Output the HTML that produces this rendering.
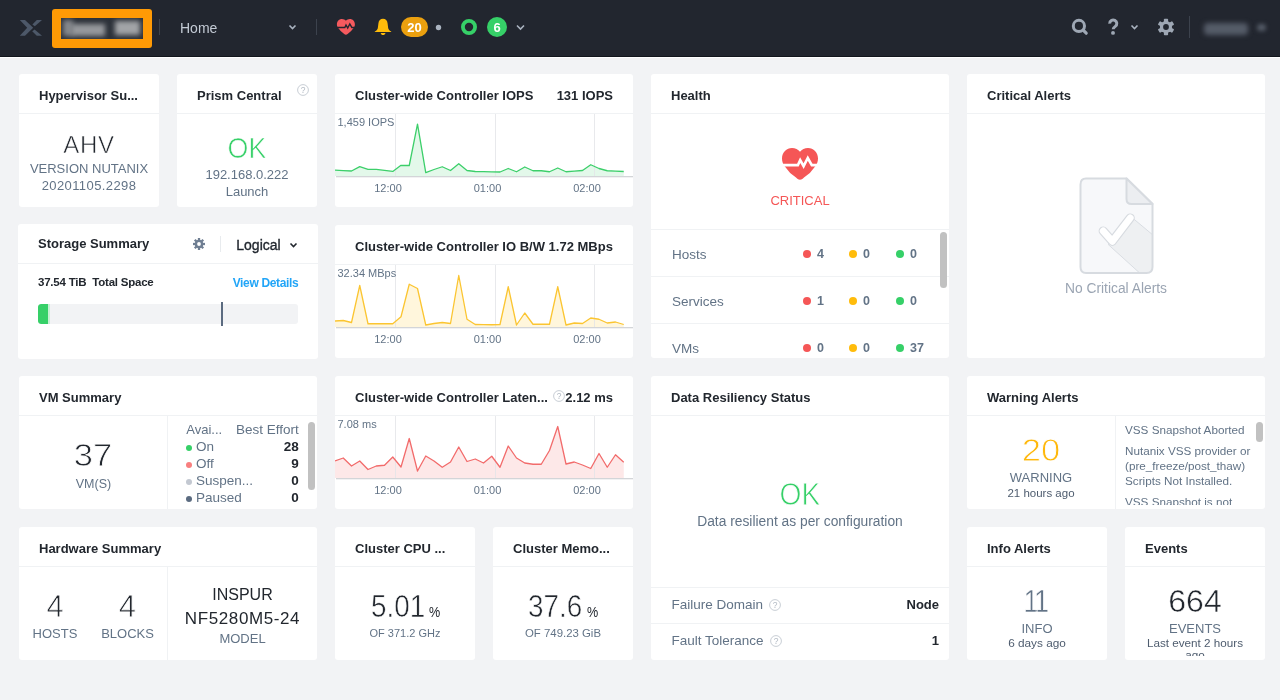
<!DOCTYPE html>
<html><head><meta charset="utf-8"><title>Prism Dashboard</title>
<style>
*{box-sizing:border-box;margin:0;padding:0}
html,body{width:1280px;height:700px;overflow:hidden}
body{background:#f2f3f5;font-family:"Liberation Sans",Arial,sans-serif;color:#22272e;position:relative}
.a{position:absolute}
.t{position:absolute;line-height:1;white-space:nowrap}
.card{position:absolute;background:#fff;border-radius:3px;overflow:hidden}
.hl{position:absolute;left:0;right:0;top:39px;height:1px;background:#f0f2f4}
.vl{position:absolute;top:40px;bottom:0;width:1px;background:#f0f2f4}
</style></head><body>
<div class="a" style="left:0;top:0;width:1280px;height:56px;background:#22262f"></div>
<div class="a" style="left:0;top:56px;width:1280px;height:1px;background:#12161d"></div>
<div class="a" style="left:0;top:57px;width:1280px;height:1px;background:#fff"></div>
<svg class="a" style="left:0;top:0" width="1280" height="56" viewBox="0 0 1280 56">
  <g fill="#4d5869">
    <polygon points="19.8,20 25,20 33.2,27.8 25,35.8 19.8,35.8 27.2,27.8"/>
    <polygon points="36.8,20 42,20 34.8,26.2 32.4,24.4"/>
    <polygon points="32.2,31.2 34.6,29.6 42,35.8 36.8,35.8"/>
  </g>
  <rect x="52" y="9" width="100" height="39" rx="3" fill="#ff9a05"/>
  <rect x="61" y="18" width="82" height="21" fill="#2d323a"/>
  <rect x="316" y="19" width="1" height="16" fill="#3c424d"/>
  <rect x="159" y="19" width="1" height="16" fill="#3c434c"/>
  <rect x="1189" y="16" width="1" height="22" fill="#3c424d"/>
  <g fill="none" stroke="#aab3c0" stroke-width="1.6">
    <polyline points="289.5,25.5 292.5,28.5 295.5,25.5"/>
    <polyline points="517,25.5 520.5,29 524,25.5"/>
    <polyline points="1131.5,25.5 1134.5,28.5 1137.5,25.5"/>
  </g>
  <g transform="translate(336.4,18.4) scale(0.5)"><path fill="#f55a5e" d="M19,32.8 C17.6,32.8 16.5,32 15,30.6 Q8.6,26.6 4.5,20.2 C2,17.8 1,14.5 1,11.5 C1,5.5 5.5,1 11,1 C14.3,1 17.2,2.5 19,4.8 C20.8,2.5 23.7,1 27,1 C32.5,1 37,5.5 37,11.5 C37,14.5 36,17.8 33.5,20.2 Q29.4,26.6 23,30.6 C21.5,32 20.4,32.8 19,32.8 Z"/><polyline fill="none" stroke="#22262f" stroke-width="2.8" stroke-miterlimit="3" points="0,18.1 16.9,18.1 19.2,13.2 22.6,19.2 26.8,11 30.8,18.1 38,18.1"/></g>
  <path fill="#ffbc0b" d="M383,18.8 C380.4,18.8 378.6,20.6 378.4,23.5 L377.8,28.2 C377.4,29.8 376.2,30.8 374.8,31.4 L374.8,32.1 L391.2,32.1 L391.2,31.4 C389.8,30.8 388.6,29.8 388.2,28.2 L387.6,23.5 C387.4,20.6 385.6,18.8 383,18.8 Z"/>
  <path fill="#ffbc0b" d="M380.6,33 L385.5,33 C385.2,34.3 384.3,35.1 383,35.1 C381.8,35.1 380.9,34.3 380.6,33 Z"/>
  <rect x="401" y="17" width="27" height="20" rx="10" fill="#eba00f"/>
  <circle cx="438.5" cy="27.5" r="2.7" fill="#aab3c0"/>
  <circle cx="469" cy="27" r="6.1" fill="none" stroke="#36d068" stroke-width="3.8"/>
  <circle cx="497" cy="27" r="10" fill="#36d068"/>
  <g fill="none" stroke="#9ea7b4" stroke-width="3">
    <circle cx="1078.9" cy="25.9" r="5.6"/>
    <line x1="1083.2" y1="30.2" x2="1086.2" y2="33.2" stroke-width="3.2" stroke-linecap="round"/>
  </g>
  <path fill="none" stroke="#9ea7b4" stroke-width="3" d="M1109.7,23.6 A3.55,3.55 0 1 1 1115.3,26.4 C1114,27.3 1113.2,27.9 1113.2,29.3"/>
  <circle cx="1113" cy="32.9" r="1.95" fill="#9ea7b4"/>
  <g fill="#9ea7b4" transform="translate(1166,27)">
    <circle r="6.1"/>
    <rect x="-2.1" y="-8.3" width="4.2" height="16.6" rx="0.8"/>
    <rect x="-2.1" y="-8.3" width="4.2" height="16.6" rx="0.8" transform="rotate(60)"/>
    <rect x="-2.1" y="-8.3" width="4.2" height="16.6" rx="0.8" transform="rotate(120)"/>
    <circle r="2.9" fill="#22262f"/>
  </g>
</svg>
<div class="t" style="left:180px;top:21px;font-size:14px;color:#c3cad4">Home</div>
<div class="t" style="left:401px;top:21px;width:27px;text-align:center;font-size:13px;font-weight:bold;color:#fff">20</div>
<div class="t" style="left:487px;top:21px;width:20px;text-align:center;font-size:13px;font-weight:bold;color:#fff">6</div>
<div class="a" style="left:61px;top:18px;width:82px;height:21px;overflow:hidden">
<div class="a" style="left:2px;top:2px;width:10px;height:16px;background:#85888d;filter:blur(2.6px)"></div>
<div class="a" style="left:10px;top:6px;width:34px;height:12px;background:#96989c;filter:blur(2.6px)"></div>
<div class="a" style="left:54px;top:3px;width:25px;height:14px;background:#a2a4a7;filter:blur(2.6px)"></div>
</div>
<div class="a" style="left:1204px;top:23px;width:44px;height:12px;background:#555c68;filter:blur(2.5px);border-radius:4px"></div>
<div class="a" style="left:1257px;top:24px;width:9px;height:7px;background:#555c68;filter:blur(2px);border-radius:4px"></div>

<div class="card" style="left:19px;top:74px;width:140px;height:133px"><div class="hl"></div></div>
<div class="t" style="top:89px;font-size:13px;color:#22272e;font-weight:bold;left:39px;">Hypervisor Su...</div>
<div class="t" style="top:132.6px;font-size:24px;color:#22272e;letter-spacing:0.8px;left:-61px;width:300px;text-align:center;-webkit-text-stroke:0.6px #fff;">AHV</div>
<div class="t" style="top:162px;font-size:13px;color:#627386;left:-61px;width:300px;text-align:center;">VERSION NUTANIX</div>
<div class="t" style="top:179px;font-size:13px;color:#627386;letter-spacing:0.4px;left:-61px;width:300px;text-align:center;">20201105.2298</div>
<div class="card" style="left:177px;top:74px;width:140px;height:133px"><div class="hl"></div></div>
<div class="t" style="top:89px;font-size:13px;color:#22272e;font-weight:bold;left:197px;">Prism Central</div>
<div class="t" style="top:132.8px;font-size:29.5px;color:#36d068;left:97px;width:300px;text-align:center;transform:scaleX(0.91);transform-origin:center 0;-webkit-text-stroke:0.7px #fff;">OK</div>
<div class="t" style="top:168px;font-size:13px;color:#627386;left:97px;width:300px;text-align:center;">192.168.0.222</div>
<div class="t" style="top:185px;font-size:13px;color:#627386;left:97px;width:300px;text-align:center;">Launch</div>
<svg class="a" style="left:296px;top:83px" width="14" height="14" viewBox="0 0 14 14"><circle cx="7" cy="7" r="5.4" fill="none" stroke="#c2c8d0" stroke-width="0.9"/><text x="7" y="10" font-size="8.5" text-anchor="middle" fill="#b0b8c2" font-family="Liberation Sans">?</text></svg>
<div class="card" style="left:335px;top:74px;width:298px;height:133px"><div class="hl"></div></div>
<div class="t" style="top:89px;font-size:13px;color:#22272e;font-weight:bold;left:355px;">Cluster-wide Controller IOPS</div>
<div class="t" style="top:89px;font-size:13px;color:#22272e;font-weight:bold;right:667px;text-align:right;">131 IOPS</div>
<svg class="a" style="left:335px;top:74px" width="298" height="133" viewBox="0 0 298 133"><polygon points="0,102 0.00,96.20 8.25,96.60 16.50,97.00 24.75,92.60 33.00,95.40 41.25,95.40 49.50,96.40 57.75,97.40 66.00,91.30 74.25,91.50 82.50,50.10 90.75,98.60 99.00,95.50 107.25,92.75 115.50,96.50 123.75,89.75 132.00,96.50 140.25,97.50 148.50,97.70 156.75,97.80 165.00,98.00 173.25,94.50 181.50,97.75 189.75,93.00 198.00,96.75 206.25,96.75 214.50,97.75 222.75,94.00 231.00,97.75 239.25,97.10 247.50,96.50 255.75,90.75 264.00,94.50 272.25,96.75 280.50,97.10 288.75,97.50 288.75,102" fill="#e3f8ea"/><rect x="60" y="40" width="1" height="62" fill="#e2e4e7" fill-opacity="0.8"/><rect x="160" y="40" width="1" height="62" fill="#e2e4e7" fill-opacity="0.8"/><rect x="259" y="40" width="1" height="62" fill="#e2e4e7" fill-opacity="0.8"/><polyline points="0.00,96.20 8.25,96.60 16.50,97.00 24.75,92.60 33.00,95.40 41.25,95.40 49.50,96.40 57.75,97.40 66.00,91.30 74.25,91.50 82.50,50.10 90.75,98.60 99.00,95.50 107.25,92.75 115.50,96.50 123.75,89.75 132.00,96.50 140.25,97.50 148.50,97.70 156.75,97.80 165.00,98.00 173.25,94.50 181.50,97.75 189.75,93.00 198.00,96.75 206.25,96.75 214.50,97.75 222.75,94.00 231.00,97.75 239.25,97.10 247.50,96.50 255.75,90.75 264.00,94.50 272.25,96.75 280.50,97.10 288.75,97.50" fill="none" stroke="#3ccf6a" stroke-width="1.3" stroke-linejoin="round"/><rect x="1" y="102" width="297" height="1.3" fill="#d3d5d8"/></svg>
<div class="t" style="top:117.3px;font-size:11px;color:#627386;left:337.5px;">1,459 IOPS</div>
<div class="t" style="top:183px;font-size:11px;color:#627386;left:238px;width:300px;text-align:center;">12:00</div>
<div class="t" style="top:183px;font-size:11px;color:#627386;left:337.5px;width:300px;text-align:center;">01:00</div>
<div class="t" style="top:183px;font-size:11px;color:#627386;left:437px;width:300px;text-align:center;">02:00</div>
<div class="card" style="left:651px;top:74px;width:298px;height:284px"><div class="hl"></div><div style="position:absolute;left:0;right:0;top:155px;height:1px;background:#f0f2f4"></div><div style="position:absolute;left:0;right:0;top:202px;height:1px;background:#f0f2f4"></div><div style="position:absolute;left:0;right:0;top:249px;height:1px;background:#f0f2f4"></div><div style="position:absolute;left:289px;top:158px;width:7px;height:56px;border-radius:4px;background:#c1c1c1"></div></div>
<div class="t" style="top:89px;font-size:13px;color:#22272e;font-weight:bold;left:671px;">Health</div>
<svg class="a" style="left:781px;top:147px" width="38" height="34" viewBox="0 0 38 34"><path fill="#f55656" d="M19,32.8 C17.6,32.8 16.5,32 15,30.6 Q8.6,26.6 4.5,20.2 C2,17.8 1,14.5 1,11.5 C1,5.5 5.5,1 11,1 C14.3,1 17.2,2.5 19,4.8 C20.8,2.5 23.7,1 27,1 C32.5,1 37,5.5 37,11.5 C37,14.5 36,17.8 33.5,20.2 Q29.4,26.6 23,30.6 C21.5,32 20.4,32.8 19,32.8 Z"/><polyline fill="none" stroke="#fff" stroke-width="2.6" stroke-linejoin="miter" stroke-miterlimit="3" points="0,18.1 16.9,18.1 19.2,13.2 22.6,19.2 26.8,11 30.8,18.1 38,18.1"/></svg>
<div class="t" style="top:193.8px;font-size:13px;color:#f55656;left:650px;width:300px;text-align:center;">CRITICAL</div>
<div class="t" style="top:247.8px;font-size:13.5px;color:#627386;left:672px;">Hosts</div>
<div class="a" style="left:803px;top:250px;width:8px;height:8px;border-radius:50%;background:#f55656"></div>
<div class="t" style="top:248px;font-size:12.5px;color:#627386;font-weight:bold;left:817px;">4</div>
<div class="a" style="left:849px;top:250px;width:8px;height:8px;border-radius:50%;background:#ffbc0b"></div>
<div class="t" style="top:248px;font-size:12.5px;color:#627386;font-weight:bold;left:863px;">0</div>
<div class="a" style="left:896px;top:250px;width:8px;height:8px;border-radius:50%;background:#36d068"></div>
<div class="t" style="top:248px;font-size:12.5px;color:#627386;font-weight:bold;left:910px;">0</div>
<div class="t" style="top:294.8px;font-size:13.5px;color:#627386;left:672px;">Services</div>
<div class="a" style="left:803px;top:297px;width:8px;height:8px;border-radius:50%;background:#f55656"></div>
<div class="t" style="top:295px;font-size:12.5px;color:#627386;font-weight:bold;left:817px;">1</div>
<div class="a" style="left:849px;top:297px;width:8px;height:8px;border-radius:50%;background:#ffbc0b"></div>
<div class="t" style="top:295px;font-size:12.5px;color:#627386;font-weight:bold;left:863px;">0</div>
<div class="a" style="left:896px;top:297px;width:8px;height:8px;border-radius:50%;background:#36d068"></div>
<div class="t" style="top:295px;font-size:12.5px;color:#627386;font-weight:bold;left:910px;">0</div>
<div class="t" style="top:341.8px;font-size:13.5px;color:#627386;left:672px;">VMs</div>
<div class="a" style="left:803px;top:344px;width:8px;height:8px;border-radius:50%;background:#f55656"></div>
<div class="t" style="top:342px;font-size:12.5px;color:#627386;font-weight:bold;left:817px;">0</div>
<div class="a" style="left:849px;top:344px;width:8px;height:8px;border-radius:50%;background:#ffbc0b"></div>
<div class="t" style="top:342px;font-size:12.5px;color:#627386;font-weight:bold;left:863px;">0</div>
<div class="a" style="left:896px;top:344px;width:8px;height:8px;border-radius:50%;background:#36d068"></div>
<div class="t" style="top:342px;font-size:12.5px;color:#627386;font-weight:bold;left:910px;">37</div>
<div class="card" style="left:967px;top:74px;width:298px;height:284px"><div class="hl"></div></div>
<div class="t" style="top:89px;font-size:13px;color:#22272e;font-weight:bold;left:987px;">Critical Alerts</div>
<svg class="a" style="left:1079px;top:177px" width="76" height="98" viewBox="0 0 76 98"><defs><clipPath id="dc"><path d="M7,1.5 L47.5,1.5 L73.5,27 L73.5,90 Q73.5,96 67.5,96 L7,96 Q1.5,96 1.5,90 L1.5,7.5 Q1.5,1.5 7,1.5 Z"/></clipPath></defs><path d="M7,1.5 L47.5,1.5 L73.5,27 L73.5,90 Q73.5,96 67.5,96 L7,96 Q1.5,96 1.5,90 L1.5,7.5 Q1.5,1.5 7,1.5 Z" fill="#f7f8fa"/><g clip-path="url(#dc)"><path d="M29,67.3 L55.1,42.3 L80,63.1 L80,102 L67.3,102 Z" fill="#eef0f2" stroke="#d9dde2" stroke-width="1"/></g><path d="M7,1.5 L47.5,1.5 L73.5,27 L73.5,90 Q73.5,96 67.5,96 L7,96 Q1.5,96 1.5,90 L1.5,7.5 Q1.5,1.5 7,1.5 Z" fill="none" stroke="#d7dbe0" stroke-width="2"/><path d="M47.5,1.5 L47.5,22 Q47.5,27 52.5,27 L73.5,27 Z" fill="#eceef1" stroke="#d7dbe0" stroke-width="2" stroke-linejoin="round"/><path d="M24.2,54 L33.3,64.3 L51.2,41" fill="none" stroke="#d7dbe0" stroke-width="9.2" stroke-linecap="round" stroke-linejoin="round"/><path d="M24.2,54 L33.3,64.3 L51.2,41" fill="none" stroke="#fff" stroke-width="6.9" stroke-linecap="round" stroke-linejoin="round"/></svg>
<div class="t" style="top:281.8px;font-size:13.8px;color:#9ba5b3;left:966px;width:300px;text-align:center;">No Critical Alerts</div>
<div class="card" style="left:18px;top:224px;width:300px;height:135px"><div class="hl"></div></div>
<div class="t" style="top:237.3px;font-size:13px;color:#22272e;font-weight:bold;left:38px;">Storage Summary</div>
<svg class="a" style="left:192px;top:237px" width="14" height="14" viewBox="-7 -7 14 14"><g fill="#6f7e92"><circle r="4.3"/><rect x="-1.15" y="-6" width="2.3" height="12"/><rect x="-1.15" y="-6" width="2.3" height="12" transform="rotate(45)"/><rect x="-1.15" y="-6" width="2.3" height="12" transform="rotate(90)"/><rect x="-1.15" y="-6" width="2.3" height="12" transform="rotate(135)"/><circle r="1.9" fill="#fff"/></g></svg>
<div class="a" style="left:220px;top:236px;width:1px;height:16px;background:#e8ebee"></div>
<div class="t" style="top:238px;font-size:14px;color:#1f252d;left:236.3px;-webkit-text-stroke:0.35px #1f252d;">Logical</div>
<svg class="a" style="left:289px;top:242px" width="10" height="7" viewBox="0 0 10 7"><polyline points="1.5,1.5 4.5,4.5 7.5,1.5" fill="none" stroke="#22272e" stroke-width="1.6"/></svg>
<div class="t" style="top:277.3px;font-size:11.5px;color:#22272e;font-weight:bold;letter-spacing:-0.22px;left:38px;">37.54 TiB&nbsp; Total Space</div>
<div class="t" style="top:276.8px;font-size:12px;color:#22a5f7;font-weight:bold;letter-spacing:-0.35px;right:981.7px;text-align:right;">View Details</div>
<div class="a" style="left:38px;top:304px;width:260px;height:20px;border-radius:3px;background:#f2f3f5;overflow:hidden"><div style="position:absolute;left:0;top:0;width:12px;height:20px;background:#c7f0d4"></div><div style="position:absolute;left:0;top:0;width:10px;height:20px;background:#36d068;border-radius:3px 0 0 3px"></div></div><div class="a" style="left:221px;top:302px;width:2px;height:24px;background:#5b6b80"></div>
<div class="card" style="left:335px;top:225px;width:298px;height:133px"><div class="hl"></div></div>
<div class="t" style="top:240px;font-size:13px;color:#22272e;font-weight:bold;left:355px;">Cluster-wide Controller IO B/W 1.72 MBps</div>
<svg class="a" style="left:335px;top:225px" width="298" height="133" viewBox="0 0 298 133"><polygon points="0,102 0.00,96.00 8.25,95.50 16.50,97.50 24.75,60.50 33.00,98.75 41.25,98.75 49.50,98.75 57.75,98.75 66.00,91.75 74.25,59.25 82.50,63.50 90.75,100.00 99.00,98.50 107.25,97.50 115.50,98.50 123.75,50.50 132.00,94.25 140.25,99.50 148.50,99.60 156.75,99.75 165.00,99.50 173.25,61.75 181.50,100.00 189.75,88.00 198.00,99.25 206.25,99.25 214.50,99.25 222.75,61.75 231.00,100.00 239.25,98.00 247.50,98.50 255.75,93.00 264.00,94.25 272.25,98.00 280.50,97.00 288.75,99.50 288.75,102" fill="#fff6dc"/><rect x="60" y="40" width="1" height="62" fill="#e2e4e7" fill-opacity="0.8"/><rect x="160" y="40" width="1" height="62" fill="#e2e4e7" fill-opacity="0.8"/><rect x="259" y="40" width="1" height="62" fill="#e2e4e7" fill-opacity="0.8"/><polyline points="0.00,96.00 8.25,95.50 16.50,97.50 24.75,60.50 33.00,98.75 41.25,98.75 49.50,98.75 57.75,98.75 66.00,91.75 74.25,59.25 82.50,63.50 90.75,100.00 99.00,98.50 107.25,97.50 115.50,98.50 123.75,50.50 132.00,94.25 140.25,99.50 148.50,99.60 156.75,99.75 165.00,99.50 173.25,61.75 181.50,100.00 189.75,88.00 198.00,99.25 206.25,99.25 214.50,99.25 222.75,61.75 231.00,100.00 239.25,98.00 247.50,98.50 255.75,93.00 264.00,94.25 272.25,98.00 280.50,97.00 288.75,99.50" fill="none" stroke="#fbc531" stroke-width="1.3" stroke-linejoin="round"/><rect x="1" y="102" width="297" height="1.3" fill="#d3d5d8"/></svg>
<div class="t" style="top:268.3px;font-size:11px;color:#627386;left:337.5px;">32.34 MBps</div>
<div class="t" style="top:334px;font-size:11px;color:#627386;left:238px;width:300px;text-align:center;">12:00</div>
<div class="t" style="top:334px;font-size:11px;color:#627386;left:337.5px;width:300px;text-align:center;">01:00</div>
<div class="t" style="top:334px;font-size:11px;color:#627386;left:437px;width:300px;text-align:center;">02:00</div>
<div class="card" style="left:19px;top:376px;width:298px;height:133px"><div class="hl"></div><div class="vl" style="left:148px"></div><div style="position:absolute;left:289px;top:46px;width:7px;height:68px;border-radius:4px;background:#c1c1c1"></div></div>
<div class="t" style="top:391px;font-size:13px;color:#22272e;font-weight:bold;left:39px;">VM Summary</div>
<div class="t" style="top:439.3px;font-size:32px;color:#22272e;left:-56.900000000000006px;width:300px;text-align:center;transform:scaleX(1.08);transform-origin:center 0;-webkit-text-stroke:0.8px #fff;">37</div>
<div class="t" style="top:477.5px;font-size:12.5px;color:#627386;left:-56.5px;width:300px;text-align:center;">VM(S)</div>
<div class="t" style="top:422.7px;font-size:13px;color:#627386;left:186.3px;">Avai...</div>
<div class="t" style="top:422.7px;font-size:13.5px;color:#627386;right:981.3px;text-align:right;">Best Effort</div>
<div class="a" style="left:186px;top:444.6px;width:6px;height:6px;border-radius:50%;background:#36d068"></div>
<div class="t" style="top:439.6px;font-size:13.5px;color:#627386;left:196px;">On</div>
<div class="t" style="top:439.6px;font-size:13.5px;color:#22272e;font-weight:bold;right:981.3px;text-align:right;">28</div>
<div class="a" style="left:186px;top:461.6px;width:6px;height:6px;border-radius:50%;background:#f87f7f"></div>
<div class="t" style="top:456.6px;font-size:13.5px;color:#627386;left:196px;">Off</div>
<div class="t" style="top:456.6px;font-size:13.5px;color:#22272e;font-weight:bold;right:981.3px;text-align:right;">9</div>
<div class="a" style="left:186px;top:478.6px;width:6px;height:6px;border-radius:50%;background:#c3c8d1"></div>
<div class="t" style="top:473.6px;font-size:13.5px;color:#627386;left:196px;">Suspen...</div>
<div class="t" style="top:473.6px;font-size:13.5px;color:#22272e;font-weight:bold;right:981.3px;text-align:right;">0</div>
<div class="a" style="left:186px;top:495.6px;width:6px;height:6px;border-radius:50%;background:#5b6b80"></div>
<div class="t" style="top:490.6px;font-size:13.5px;color:#627386;left:196px;">Paused</div>
<div class="t" style="top:490.6px;font-size:13.5px;color:#22272e;font-weight:bold;right:981.3px;text-align:right;">0</div>
<div class="card" style="left:335px;top:376px;width:298px;height:133px"><div class="hl"></div></div>
<div class="t" style="top:391px;font-size:13px;color:#22272e;font-weight:bold;left:355px;">Cluster-wide Controller Laten...</div>
<svg class="a" style="left:552px;top:389px" width="14" height="14" viewBox="0 0 14 14"><circle cx="7" cy="7" r="5.4" fill="none" stroke="#c2c8d0" stroke-width="0.9"/><text x="7" y="10" font-size="8.5" text-anchor="middle" fill="#b0b8c2" font-family="Liberation Sans">?</text></svg>
<div class="t" style="top:391px;font-size:13px;color:#22272e;font-weight:bold;right:667px;text-align:right;">2.12 ms</div>
<svg class="a" style="left:335px;top:376px" width="298" height="133" viewBox="0 0 298 133"><polygon points="0,102 0.00,85.00 8.25,82.00 16.50,90.00 24.75,85.00 33.00,93.50 41.25,90.00 49.50,89.25 57.75,81.00 66.00,91.00 74.25,62.50 82.50,95.00 90.75,80.00 99.00,85.00 107.25,91.25 115.50,86.00 123.75,71.00 132.00,85.50 140.25,83.00 148.50,87.00 156.75,80.25 165.00,91.25 173.25,70.00 181.50,82.00 189.75,87.00 198.00,88.25 206.25,88.25 214.50,74.50 222.75,50.50 231.00,88.00 239.25,86.00 247.50,89.00 255.75,92.50 264.00,77.50 272.25,91.25 280.50,78.75 288.75,86.25 288.75,102" fill="#fde8e8"/><rect x="60" y="40" width="1" height="62" fill="#e2e4e7" fill-opacity="0.8"/><rect x="160" y="40" width="1" height="62" fill="#e2e4e7" fill-opacity="0.8"/><rect x="259" y="40" width="1" height="62" fill="#e2e4e7" fill-opacity="0.8"/><polyline points="0.00,85.00 8.25,82.00 16.50,90.00 24.75,85.00 33.00,93.50 41.25,90.00 49.50,89.25 57.75,81.00 66.00,91.00 74.25,62.50 82.50,95.00 90.75,80.00 99.00,85.00 107.25,91.25 115.50,86.00 123.75,71.00 132.00,85.50 140.25,83.00 148.50,87.00 156.75,80.25 165.00,91.25 173.25,70.00 181.50,82.00 189.75,87.00 198.00,88.25 206.25,88.25 214.50,74.50 222.75,50.50 231.00,88.00 239.25,86.00 247.50,89.00 255.75,92.50 264.00,77.50 272.25,91.25 280.50,78.75 288.75,86.25" fill="none" stroke="#f26b6b" stroke-width="1.3" stroke-linejoin="round"/><rect x="1" y="102" width="297" height="1.3" fill="#d3d5d8"/></svg>
<div class="t" style="top:419.3px;font-size:11px;color:#627386;left:337.5px;">7.08 ms</div>
<div class="t" style="top:485px;font-size:11px;color:#627386;left:238px;width:300px;text-align:center;">12:00</div>
<div class="t" style="top:485px;font-size:11px;color:#627386;left:337.5px;width:300px;text-align:center;">01:00</div>
<div class="t" style="top:485px;font-size:11px;color:#627386;left:437px;width:300px;text-align:center;">02:00</div>
<div class="card" style="left:651px;top:376px;width:298px;height:284px"><div class="hl"></div><div style="position:absolute;left:0;right:0;top:211px;height:1px;background:#f0f2f4"></div><div style="position:absolute;left:0;right:0;top:247px;height:1px;background:#f0f2f4"></div></div>
<div class="t" style="top:391px;font-size:13px;color:#22272e;font-weight:bold;left:671px;">Data Resiliency Status</div>
<div class="t" style="top:479.2px;font-size:31px;color:#36d068;left:650px;width:300px;text-align:center;transform:scaleX(0.91);transform-origin:center 0;-webkit-text-stroke:0.8px #fff;">OK</div>
<div class="t" style="top:514.5px;font-size:13.8px;color:#627386;left:650px;width:300px;text-align:center;">Data resilient as per configuration</div>
<div class="t" style="top:598px;font-size:13.5px;color:#627386;left:671.5px;">Failure Domain</div>
<div class="t" style="top:634px;font-size:13.5px;color:#627386;left:671.5px;">Fault Tolerance</div>
<svg class="a" style="left:768px;top:598.3px" width="14" height="14" viewBox="0 0 14 14"><circle cx="7" cy="7" r="5.4" fill="none" stroke="#c2c8d0" stroke-width="0.9"/><text x="7" y="10" font-size="8.5" text-anchor="middle" fill="#b0b8c2" font-family="Liberation Sans">?</text></svg>
<svg class="a" style="left:769px;top:634.3px" width="14" height="14" viewBox="0 0 14 14"><circle cx="7" cy="7" r="5.4" fill="none" stroke="#c2c8d0" stroke-width="0.9"/><text x="7" y="10" font-size="8.5" text-anchor="middle" fill="#b0b8c2" font-family="Liberation Sans">?</text></svg>
<div class="t" style="top:598px;font-size:13px;color:#22272e;font-weight:bold;right:341px;text-align:right;">Node</div>
<div class="t" style="top:634px;font-size:13px;color:#22272e;font-weight:bold;right:341px;text-align:right;">1</div>
<div class="card" style="left:967px;top:376px;width:298px;height:133px"><div class="hl"></div><div class="vl" style="left:148px"></div><div style="position:absolute;left:289px;top:46px;width:7px;height:20px;border-radius:4px;background:#c1c1c1"></div></div>
<div class="t" style="top:391px;font-size:13px;color:#22272e;font-weight:bold;left:987px;">Warning Alerts</div>
<div class="t" style="top:434.3px;font-size:32px;color:#ffb80a;left:890.9000000000001px;width:300px;text-align:center;transform:scaleX(1.08);transform-origin:center 0;-webkit-text-stroke:0.8px #fff;">20</div>
<div class="t" style="top:471px;font-size:13px;color:#627386;left:891px;width:300px;text-align:center;">WARNING</div>
<div class="t" style="top:487.5px;font-size:11.5px;color:#4e5c6e;left:891px;width:300px;text-align:center;">21 hours ago</div>
<div class="a" style="left:1116px;top:416px;width:140px;height:89px;overflow:hidden">
<div class="t" style="left:9px;top:8px;font-size:11.7px;color:#627386">VSS Snapshot Aborted</div>
<div class="t" style="left:9px;top:29px;font-size:11.7px;color:#627386">Nutanix VSS provider or</div>
<div class="t" style="left:9px;top:44px;font-size:11.7px;color:#627386">(pre_freeze/post_thaw)</div>
<div class="t" style="left:9px;top:59px;font-size:11.7px;color:#627386">Scripts Not Installed.</div>
<div class="t" style="left:9px;top:79.5px;font-size:11.7px;color:#627386">VSS Snapshot is not</div>
</div>
<div class="card" style="left:19px;top:527px;width:298px;height:133px"><div class="hl"></div><div class="vl" style="left:148px"></div></div>
<div class="t" style="top:542px;font-size:13px;color:#22272e;font-weight:bold;left:39px;">Hardware Summary</div>
<div class="t" style="top:591px;font-size:31px;color:#22272e;left:-95px;width:300px;text-align:center;-webkit-text-stroke:0.8px #fff;">4</div>
<div class="t" style="top:627px;font-size:13px;color:#627386;left:-95px;width:300px;text-align:center;">HOSTS</div>
<div class="t" style="top:591px;font-size:31px;color:#22272e;left:-22.700000000000003px;width:300px;text-align:center;-webkit-text-stroke:0.8px #fff;">4</div>
<div class="t" style="top:627px;font-size:13px;color:#627386;left:-22.5px;width:300px;text-align:center;">BLOCKS</div>
<div class="t" style="top:587px;font-size:16px;color:#22272e;left:92.5px;width:300px;text-align:center;">INSPUR</div>
<div class="t" style="top:609.8px;font-size:17px;color:#22272e;letter-spacing:0.6px;left:92.5px;width:300px;text-align:center;">NF5280M5-24</div>
<div class="t" style="top:632px;font-size:13px;color:#627386;left:92.5px;width:300px;text-align:center;">MODEL</div>
<div class="card" style="left:335px;top:527px;width:140px;height:133px"><div class="hl"></div></div>
<div class="t" style="top:542px;font-size:13px;color:#22272e;font-weight:bold;left:355px;">Cluster CPU ...</div>
<div class="t" style="top:590px;font-size:32px;color:#22272e;left:371.3px;transform:scaleX(0.87);transform-origin:left 0;-webkit-text-stroke:0.6px #fff;">5.01</div>
<div class="t" style="top:604.8px;font-size:14px;color:#22272e;left:428.5px;transform:scaleX(0.9);transform-origin:left 0;">%</div>
<div class="t" style="top:628px;font-size:11px;color:#627386;left:255px;width:300px;text-align:center;">OF 371.2 GHz</div>
<div class="card" style="left:493px;top:527px;width:140px;height:133px"><div class="hl"></div></div>
<div class="t" style="top:542px;font-size:13px;color:#22272e;font-weight:bold;left:513px;">Cluster Memo...</div>
<div class="t" style="top:590px;font-size:32px;color:#22272e;left:528px;transform:scaleX(0.87);transform-origin:left 0;-webkit-text-stroke:0.6px #fff;">37.6</div>
<div class="t" style="top:604.8px;font-size:14px;color:#22272e;left:586.8px;transform:scaleX(0.9);transform-origin:left 0;">%</div>
<div class="t" style="top:628px;font-size:11.4px;color:#627386;left:413px;width:300px;text-align:center;">OF 749.23 GiB</div>
<div class="card" style="left:967px;top:527px;width:140px;height:133px"><div class="hl"></div></div>
<div class="t" style="top:542px;font-size:13px;color:#22272e;font-weight:bold;left:987px;">Info Alerts</div>
<div class="t" style="top:585px;font-size:32px;color:#627386;letter-spacing:-3px;left:885px;width:300px;text-align:center;transform:scaleX(0.85);transform-origin:center 0;-webkit-text-stroke:0.55px #fff;">11</div>
<div class="t" style="top:622px;font-size:13px;color:#627386;left:887px;width:300px;text-align:center;">INFO</div>
<div class="t" style="top:637.5px;font-size:11.8px;color:#4e5c6e;left:887px;width:300px;text-align:center;">6 days ago</div>
<div class="card" style="left:1125px;top:527px;width:140px;height:133px"><div class="hl"></div></div>
<div class="t" style="top:542px;font-size:13px;color:#22272e;font-weight:bold;left:1145px;">Events</div>
<div class="a" style="left:1125px;top:567px;width:140px;height:89px;overflow:hidden">
<div class="t" style="left:0;width:140px;text-align:center;top:18px;font-size:32px;color:#22272e;-webkit-text-stroke:0.5px #fff">664</div>
<div class="t" style="left:0;width:140px;text-align:center;top:55px;font-size:13px;color:#627386">EVENTS</div>
<div class="t" style="left:20px;width:100px;text-align:center;top:70.0px;font-size:11.7px;line-height:12px;color:#4e5c6e;white-space:normal">Last event 2 hours ago</div>
</div>
</body></html>
